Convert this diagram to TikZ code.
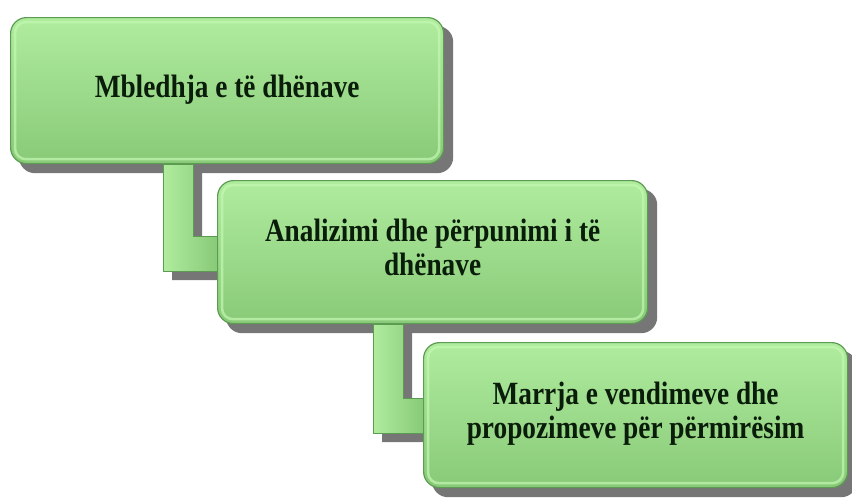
\documentclass[tikz,border=0pt]{standalone}
\usepackage{fontspec}
\setmainfont{Liberation Serif}
\usetikzlibrary{calc,backgrounds}
\definecolor{boxtop}{RGB}{176,236,158}
\definecolor{boxbot}{RGB}{136,202,120}
\definecolor{boxedge}{RGB}{92,156,82}
\definecolor{boxhi}{RGB}{196,248,178}
\definecolor{shadowgray}{RGB}{118,118,118}
\definecolor{txt}{RGB}{10,28,10}
\newcommand\boxtxt[1]{\scalebox{0.91}[1.08]{\begin{tabular}{@{}c@{}}#1\end{tabular}}}
\tikzset{
  stepbox/.style={rectangle, rounded corners=16pt, draw=boxedge, line width=1.2pt,
    top color=boxtop, bottom color=boxbot,
    text=txt, font=\fontsize{30}{31.5}\selectfont\bfseries, align=center, inner sep=0pt},
  boxshadow/.style={fill=shadowgray, rounded corners=16pt},
  bevel/.style={draw=boxhi, line width=2.5pt, rounded corners=11pt, opacity=0.7},
  elbow/.style={draw=boxedge, line width=0.8pt, left color=boxtop, right color=boxbot},
  elbowshadow/.style={fill=shadowgray}
}
\begin{document}
\begin{tikzpicture}[x=1pt,y=-1pt]
\useasboundingbox (0,0) rectangle (852,501);
% boxes
\node[stepbox, minimum width=433pt, minimum height=146pt, anchor=north west] (b1) at (10,17) {\boxtxt{Mbledhja e të dhënave}};
\node[stepbox, minimum width=430pt, minimum height=143pt, anchor=north west] (b2) at (217,180) {\boxtxt{Analizimi dhe përpunimi i të\\dhënave}};
\node[stepbox, minimum width=424pt, minimum height=145pt, anchor=north west] (b3) at (423,342) {\boxtxt{Marrja e vendimeve dhe\\propozimeve për përmirësim}};
% bevel highlights
\foreach \b in {b1,b2,b3}{
  \draw[bevel] ($(\b.north west)+(5,5)$) rectangle ($(\b.south east)+(-5,-5)$);
}
\begin{scope}[on background layer]
  % shadows of boxes
  \foreach \b in {b1,b2,b3}{
    \fill[boxshadow] ($(\b.north west)+(9,9)$) rectangle ($(\b.south east)+(9,9)$);
  }
  % connector 1 : b1 -> b2
  \coordinate (e1a) at ($(b1.south west)+(153,0)$);
  \coordinate (e1b) at ($(b2.west)+(0,-16)$);
  \coordinate (e1c) at ($(b2.west)+(0,19)$);
  \fill[elbowshadow] ($(e1a)+(9,9)$) -- ($(e1a)+(39,9)$) |- ($(e1b)+(9,9)$) -- ($(e1c)+(9,9)$) -| cycle;
  \path[elbow] (e1a) -- ($(e1a)+(30,0)$) |- (e1b) -- (e1c) -| cycle;
  % connector 2 : b2 -> b3
  \coordinate (e2a) at ($(b2.south west)+(156,0)$);
  \coordinate (e2b) at ($(b3.west)+(0,-17)$);
  \coordinate (e2c) at ($(b3.west)+(0,18)$);
  \fill[elbowshadow] ($(e2a)+(9,9)$) -- ($(e2a)+(39,9)$) |- ($(e2b)+(9,9)$) -- ($(e2c)+(9,9)$) -| cycle;
  \path[elbow] (e2a) -- ($(e2a)+(30,0)$) |- (e2b) -- (e2c) -| cycle;
\end{scope}
\end{tikzpicture}
\end{document}
